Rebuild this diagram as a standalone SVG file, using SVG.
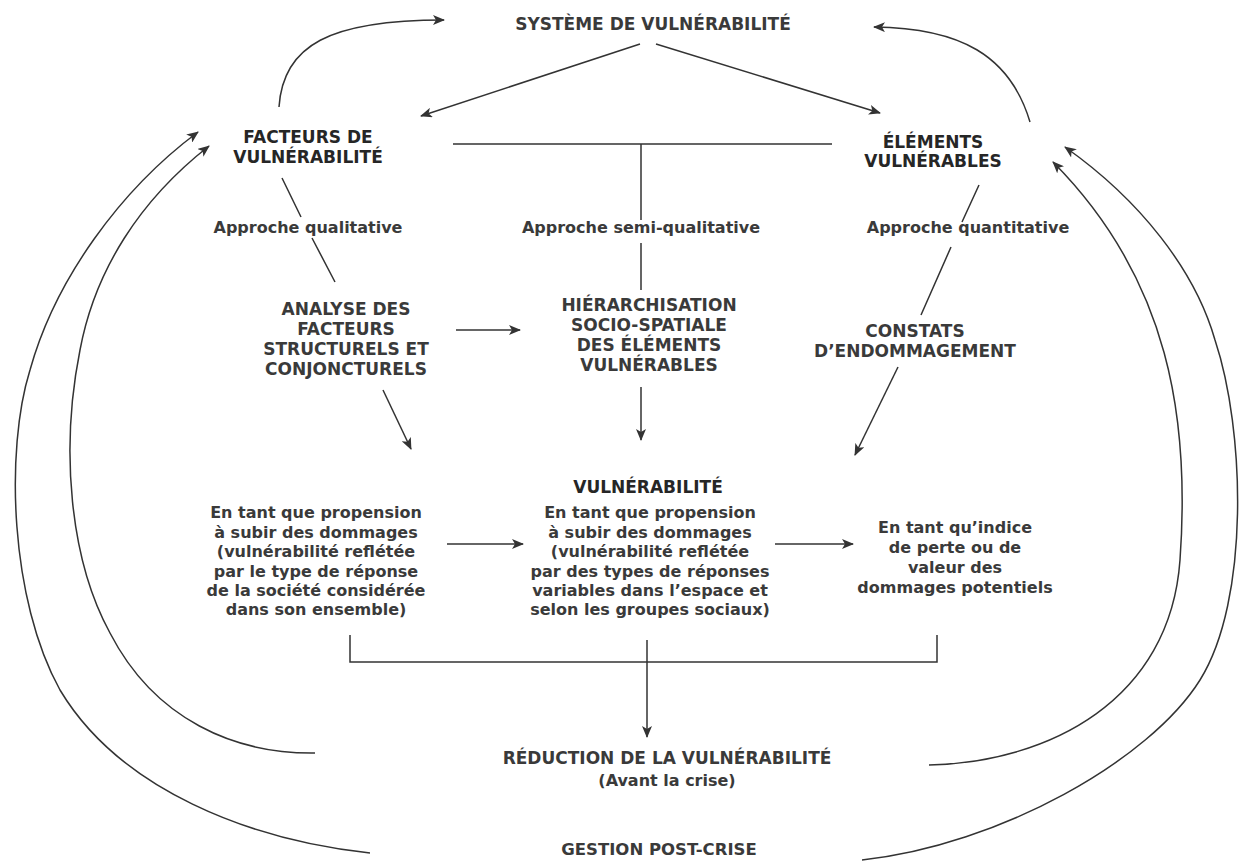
<svg xmlns="http://www.w3.org/2000/svg" width="1239" height="861" viewBox="0 0 1239 861">
<style>
text{font-family:"DejaVu Sans","Liberation Sans",sans-serif;font-weight:bold;text-anchor:middle;fill:#3a3a3a}
.h{font-size:17px}
.hb{font-size:17px;fill:#262626}
.b{font-size:16px}
.ln{fill:none;stroke:#333;stroke-width:1.5}
.ar{fill:none;stroke:#333;stroke-width:1.5;marker-end:url(#ah)}
</style>
<defs>
<marker id="ah" viewBox="0 0 12 10" refX="11" refY="5" markerWidth="12" markerHeight="10" markerUnits="userSpaceOnUse" orient="auto">
<path d="M0,0 L12,5 L0,10 L3,5 z" fill="#333"/>
</marker>
</defs>
<rect width="1239" height="861" fill="#fff"/>
<g id="connectors">
<path class="ar" d="M279,107 C283,45 330,20 444,20"/>
<path class="ar" d="M1030,122 C1010,55 960,28 874,27"/>
<path class="ar" d="M640,44 L421,116"/>
<path class="ar" d="M656,44 L880,113"/>
<path class="ln" d="M453,144 L832,144 M641,144 L641,220 M641,243 L641,290"/>
<path class="ln" d="M282,178 L301,217 M312,238 L335,282"/>
<path class="ln" d="M979,185 L962,222 M951,247 L921,315"/>
<path class="ar" d="M456,330 L520,330"/>
<path class="ar" d="M641,387 L641,440"/>
<path class="ar" d="M383,390 L411,449"/>
<path class="ar" d="M898,367 L855,455"/>
<path class="ar" d="M447,544 L523,544"/>
<path class="ar" d="M775,544 L853,544"/>
<path class="ln" d="M350,635 L350,662 L937,662 L937,635"/>
<path class="ar" d="M647,640 L647,737"/>
<path class="ar" d="M315,753 C235,754 155,720 110,633 C70,560 60,450 80,350 C95,270 140,200 209,146"/>
<path class="ar" d="M370,853 C250,840 120,790 60,690 C10,600 5,450 30,370 C55,280 120,190 198,132"/>
<path class="ar" d="M929,765 C1050,762 1170,700 1180,560 C1190,420 1170,280 1053,162"/>
<path class="ar" d="M862,860 C1000,845 1150,760 1200,680 C1250,600 1245,430 1215,340 C1195,270 1140,200 1065,147"/>
</g>
<g id="systeme"><text class="h" x="653" y="30">SYSTÈME DE VULNÉRABILITÉ</text></g>
<g id="facteurs"><text class="hb" x="308" y="143">FACTEURS DE</text><text class="hb" x="308" y="163">VULNÉRABILITÉ</text></g>
<g id="elements"><text class="hb" x="933" y="148">ÉLÉMENTS</text><text class="hb" x="933" y="167">VULNÉRABLES</text></g>
<g id="approche-qualitative"><text class="b" x="308" y="233">Approche qualitative</text></g>
<g id="approche-semi"><text class="b" x="641" y="233">Approche semi-qualitative</text></g>
<g id="approche-quantitative"><text class="b" x="968" y="233">Approche quantitative</text></g>
<g id="analyse"><text class="h" x="346" y="315">ANALYSE DES</text><text class="h" x="346" y="335">FACTEURS</text><text class="h" x="346" y="355">STRUCTURELS ET</text><text class="h" x="346" y="375">CONJONCTURELS</text></g>
<g id="hierarchisation"><text class="h" x="649" y="311">HIÉRARCHISATION</text><text class="h" x="649" y="331">SOCIO-SPATIALE</text><text class="h" x="649" y="351">DES ÉLÉMENTS</text><text class="h" x="649" y="371">VULNÉRABLES</text></g>
<g id="constats"><text class="h" x="915" y="337">CONSTATS</text><text class="h" x="915" y="357">D’ENDOMMAGEMENT</text></g>
<g id="vulnerabilite"><text class="hb" x="648" y="493">VULNÉRABILITÉ</text></g>
<g id="propension-societe">
<text class="b" x="316" y="518">En tant que propension</text>
<text class="b" x="316" y="538">à subir des dommages</text>
<text class="b" x="316" y="557">(vulnérabilité reflétée</text>
<text class="b" x="316" y="577">par le type de réponse</text>
<text class="b" x="316" y="596">de la société considérée</text>
<text class="b" x="316" y="615">dans son ensemble)</text>
</g>
<g id="propension-groupes">
<text class="b" x="650" y="518">En tant que propension</text>
<text class="b" x="650" y="538">à subir des dommages</text>
<text class="b" x="650" y="557">(vulnérabilité reflétée</text>
<text class="b" x="650" y="577">par des types de réponses</text>
<text class="b" x="650" y="596">variables dans l’espace et</text>
<text class="b" x="650" y="615">selon les groupes sociaux)</text>
</g>
<g id="indice-perte">
<text class="b" x="955" y="533">En tant qu’indice</text>
<text class="b" x="955" y="553">de perte ou de</text>
<text class="b" x="955" y="573">valeur des</text>
<text class="b" x="955" y="593">dommages potentiels</text>
</g>
<g id="reduction"><text class="h" x="667" y="764">RÉDUCTION DE LA VULNÉRABILITÉ</text><text class="b" x="667" y="786">(Avant la crise)</text></g>
<g id="gestion"><text class="h" x="659" y="855" style="font-size:16.5px">GESTION POST-CRISE</text></g>
</svg>
